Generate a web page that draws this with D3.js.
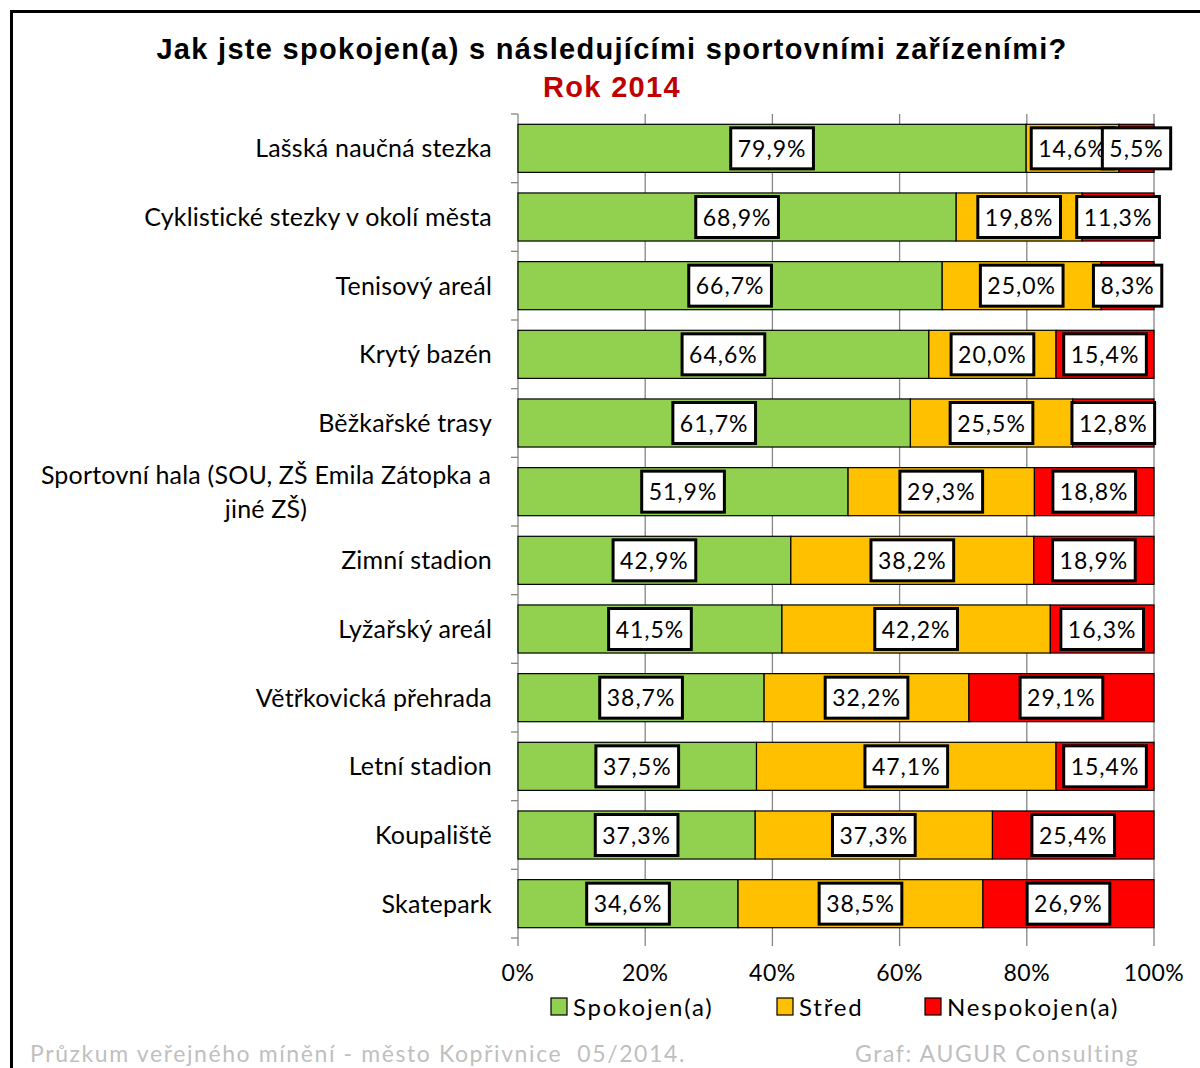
<!DOCTYPE html>
<html>
<head>
<meta charset="utf-8">
<script src="https://cdn.jsdelivr.net/npm/d3@7"></script>
<style>
  body { margin: 0; background: #fff; }
  svg { display: block; }
</style>
</head>
<body>
<svg id="chart"></svg>
<script>
// data
const categories = [
  "Lašská naučná stezka",
  "Cyklistické stezky v okolí města",
  "Tenisový areál",
  "Krytý bazén",
  "Běžkařské trasy",
  "Sportovní hala (SOU, ZŠ Emila Zátopka a|jiné ZŠ)",
  "Zimní stadion",
  "Lyžařský areál",
  "Větřkovická přehrada",
  "Letní stadion",
  "Koupaliště",
  "Skatepark"
];
const spokojen = [79.9, 68.9, 66.7, 64.6, 61.7, 51.9, 42.9, 41.5, 38.7, 37.5, 37.3, 34.6];
const stred    = [14.6, 19.8, 25.0, 20.0, 25.5, 29.3, 38.2, 42.2, 32.2, 47.1, 37.3, 38.5];
const nespokojen = [5.5, 11.3, 8.3, 15.4, 12.8, 18.8, 18.9, 16.3, 29.1, 15.4, 25.4, 26.9];
const seriesNames = ["Spokojen(a)", "Střed", "Nespokojen(a)"];
const colors = ["#92d050", "#ffc000", "#ff0000"];
const xTicks = [0, 20, 40, 60, 80, 100];

const width = 1200, height = 1068;
const margin = { left: 518, right: 46, top: 114, bottom: 130 };
const labelFont = "Lato, 'Open Sans', sans-serif";

const svg = d3.select("#chart").attr("width", width).attr("height", height);

// frame
svg.append("path")
  .attr("d", `M11.5,${height} V11.5 H${width}`)
  .attr("fill", "none").attr("stroke", "#000").attr("stroke-width", 3);

// title
svg.append("text")
  .attr("x", 612).attr("y", 59)
  .attr("text-anchor", "middle")
  .style("font-family", "'Liberation Sans', Arial, sans-serif")
  .style("font-weight", "bold").style("font-size", "29px")
  .style("letter-spacing", "1.3px")
  .text("Jak jste spokojen(a) s následujícími sportovními zařízeními?");
svg.append("text")
  .attr("x", 612).attr("y", 97)
  .attr("text-anchor", "middle")
  .attr("fill", "#c00000")
  .style("font-family", "'Liberation Sans', Arial, sans-serif")
  .style("font-weight", "bold").style("font-size", "29px")
  .style("letter-spacing", "1.3px")
  .text("Rok 2014");

const xScale = d3.scaleLinear().domain([0, 100]).range([margin.left, width - margin.right]);
const yScale = d3.scaleBand().domain(categories).range([margin.top, height - margin.bottom])
  .paddingInner(0.3).paddingOuter(0.15);

const stackData = categories.map((c, i) => ({ cat: c, s0: spokojen[i], s1: stred[i], s2: nespokojen[i] }));
const stack = d3.stack().keys(["s0", "s1", "s2"])(stackData);

// gridlines
svg.append("g").selectAll("line")
  .data(xTicks.slice(1))
  .join("line")
  .attr("x1", d => xScale(d)).attr("x2", d => xScale(d))
  .attr("y1", margin.top).attr("y2", height - margin.bottom + 8)
  .attr("stroke", "#868686").attr("stroke-width", 1.3);

// left axis line + ticks at band boundaries
const step = yScale.step();
const boundaries = d3.range(categories.length + 1).map(i => margin.top + i * step);
svg.append("line")
  .attr("x1", xScale(0)).attr("x2", xScale(0))
  .attr("y1", margin.top).attr("y2", height - margin.bottom + 8)
  .attr("stroke", "#868686").attr("stroke-width", 1.3);
svg.append("g").selectAll("line")
  .data(boundaries)
  .join("line")
  .attr("x1", xScale(0) - 7).attr("x2", xScale(0))
  .attr("y1", d => d).attr("y2", d => d)
  .attr("stroke", "#868686").attr("stroke-width", 1.3);

// x tick labels
svg.append("g").selectAll("text")
  .data(xTicks)
  .join("text")
  .attr("x", d => xScale(d)).attr("y", 981)
  .attr("text-anchor", "middle")
  .style("font-family", labelFont).style("font-size", "23px")
  .style("letter-spacing", "0.5px")
  .text(d => d + "%");

// bars
const layers = svg.append("g").selectAll("g")
  .data(stack)
  .join("g")
  .attr("fill", (d, i) => colors[i]);

layers.selectAll("rect")
  .data(d => d)
  .join("rect")
  .attr("x", d => xScale(d[0]))
  .attr("width", d => xScale(d[1]) - xScale(d[0]))
  .attr("y", d => yScale(d.data.cat))
  .attr("height", yScale.bandwidth())
  .attr("stroke", "#000").attr("stroke-width", 1.2);

// data labels
const fmt = v => v.toFixed(1).replace(".", ",") + "%";
stack.forEach(layer => {
  layer.forEach(d => {
    const cx = xScale((d[0] + d[1]) / 2);
    const cy = yScale(d.data.cat) + yScale.bandwidth() / 2;
    const g = svg.append("g");
    const t = g.append("text")
      .attr("x", cx).attr("y", cy + 8.5)
      .attr("text-anchor", "middle")
      .style("font-family", labelFont).style("font-size", "23px")
      .style("letter-spacing", "1px")
      .text(fmt(d[1] - d[0]));
    const w = t.node().getComputedTextLength() + 14;
    g.insert("rect", "text")
      .attr("x", cx - w / 2).attr("y", cy - 20.5)
      .attr("width", w).attr("height", 41)
      .attr("fill", "#fff").attr("stroke", "#000").attr("stroke-width", 3);
  });
});

// category labels
categories.forEach(c => {
  const lines = c.split("|");
  const cy = yScale(c) + yScale.bandwidth() / 2;
  if (lines.length === 1) {
    svg.append("text")
      .attr("x", 492).attr("y", cy + 9)
      .attr("text-anchor", "end")
      .style("font-family", labelFont).style("font-size", "25px")
      .style("letter-spacing", "0.2px")
      .text(c);
  } else {
    const t = svg.append("text")
      .attr("x", 266).attr("y", cy - 8)
      .attr("text-anchor", "middle")
      .style("font-family", labelFont).style("font-size", "25px")
      .style("letter-spacing", "0.2px");
    lines.forEach((l, i) => t.append("tspan").attr("x", 266).attr("dy", i ? 34 : 0).text(l));
  }
});

// legend
const legendX = [551, 777, 925];
const legend = svg.append("g").selectAll("g")
  .data(seriesNames)
  .join("g")
  .attr("transform", (d, i) => `translate(${legendX[i]},998)`);
legend.append("rect")
  .attr("width", 16).attr("height", 17)
  .attr("fill", (d, i) => colors[i])
  .attr("stroke", "#000").attr("stroke-width", 1.2);
legend.append("text")
  .attr("x", 22).attr("y", 18)
  .style("font-family", labelFont).style("font-size", "24px")
  .style("letter-spacing", "1.8px")
  .text(d => d);

// footer
svg.append("text")
  .attr("x", 30).attr("y", 1062)
  .attr("fill", "#bfbfbf")
  .attr("xml:space", "preserve")
  .style("white-space", "pre")
  .style("font-family", labelFont).style("font-size", "23px")
  .style("letter-spacing", "1.6px")
  .text("Průzkum veřejného mínění - město Kopřivnice  05/2014.");
svg.append("text")
  .attr("x", 855).attr("y", 1062)
  .attr("fill", "#bfbfbf")
  .style("font-family", labelFont).style("font-size", "23px")
  .style("letter-spacing", "1.6px")
  .text("Graf: AUGUR Consulting");
</script>
</body>
</html>
